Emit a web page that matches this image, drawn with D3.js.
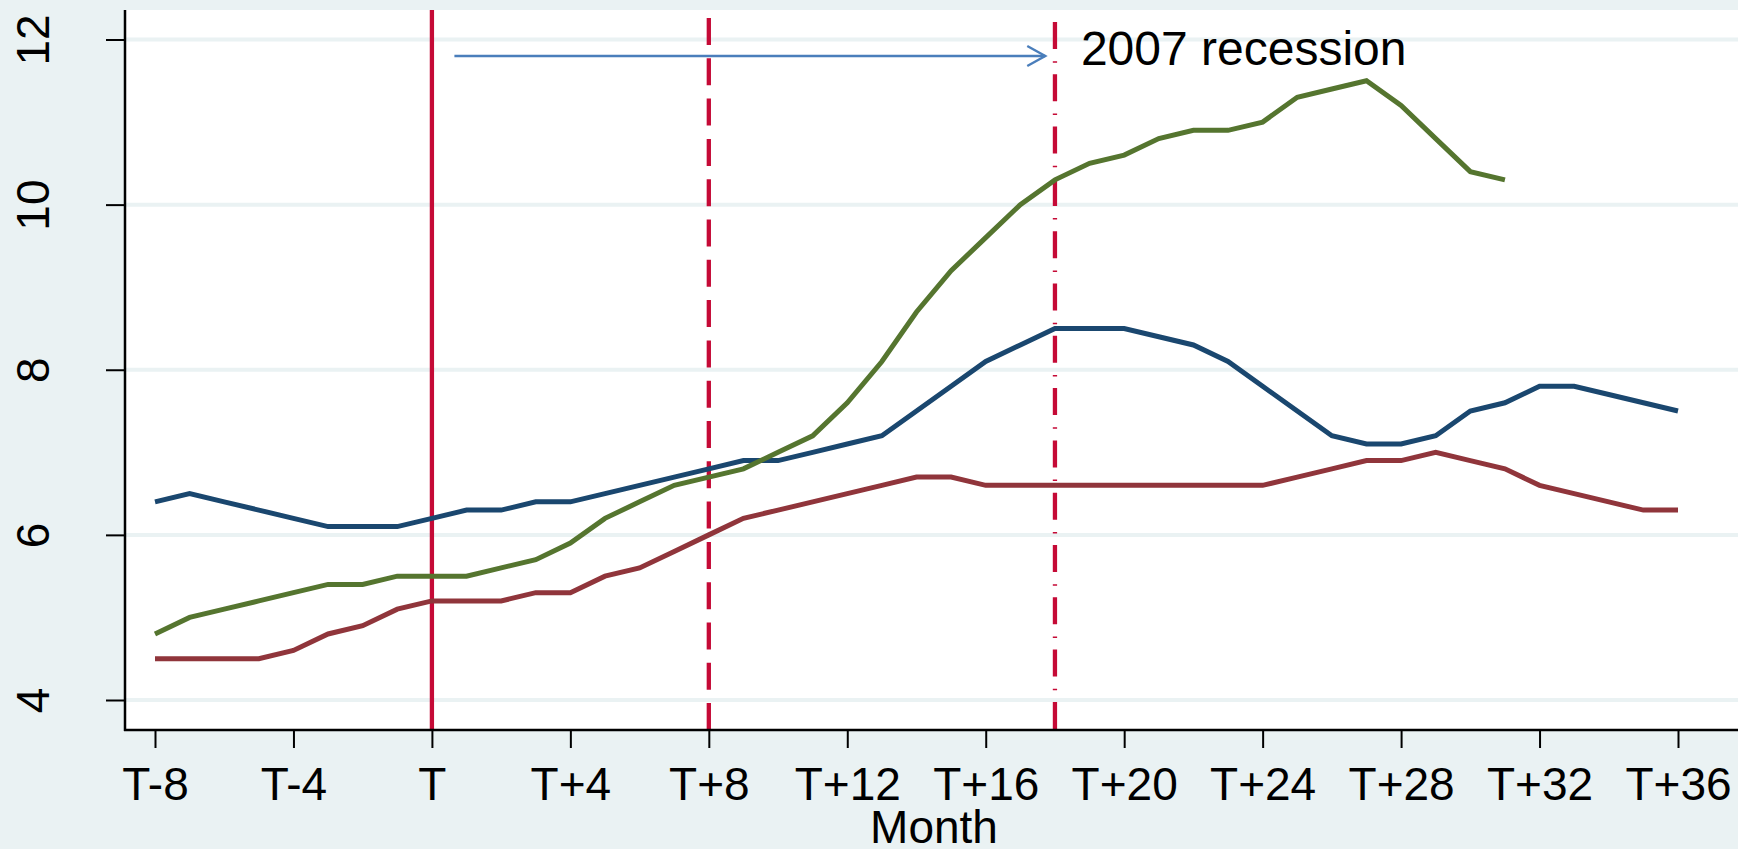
<!DOCTYPE html>
<html>
<head>
<meta charset="utf-8">
<script src="https://cdn.jsdelivr.net/npm/d3@7"></script>
<style>
  html, body { margin: 0; padding: 0; background: #EAF2F3; }
  svg { display: block; font-family: "Liberation Sans", Arial, Helvetica, sans-serif; }
</style>
</head>
<body>
<svg id="chart" width="1738" height="849"></svg>
<script>
// ---------- data ----------
const months = d3.range(-8, 37);            // T-8 ... T+36
const seriesBlue = [6.4, 6.5, 6.4, 6.3, 6.2, 6.1, 6.1, 6.1, 6.2, 6.3, 6.3, 6.4, 6.4, 6.5, 6.6, 6.7, 6.8,
                    6.9, 6.9, 7.0, 7.1, 7.2, 7.5, 7.8, 8.1, 8.3, 8.5, 8.5, 8.5, 8.4, 8.3, 8.1, 7.8, 7.5,
                    7.2, 7.1, 7.1, 7.2, 7.5, 7.6, 7.8, 7.8, 7.7, 7.6, 7.5];
const seriesRed  = [4.5, 4.5, 4.5, 4.5, 4.6, 4.8, 4.9, 5.1, 5.2, 5.2, 5.2, 5.3, 5.3, 5.5, 5.6, 5.8, 6.0,
                    6.2, 6.3, 6.4, 6.5, 6.6, 6.7, 6.7, 6.6, 6.6, 6.6, 6.6, 6.6, 6.6, 6.6, 6.6, 6.6, 6.7,
                    6.8, 6.9, 6.9, 7.0, 6.9, 6.8, 6.6, 6.5, 6.4, 6.3, 6.3];
const seriesGreen = [4.8, 5.0, 5.1, 5.2, 5.3, 5.4, 5.4, 5.5, 5.5, 5.5, 5.6, 5.7, 5.9, 6.2, 6.4, 6.6, 6.7,
                     6.8, 7.0, 7.2, 7.6, 8.1, 8.7, 9.2, 9.6, 10.0, 10.3, 10.5, 10.6, 10.8, 10.9, 10.9, 11.0, 11.3,
                     11.4, 11.5, 11.2, 10.8, 10.4, 10.3, null, null, null, null, null];
const seriesColors = ["#1A476F", "#90353B", "#55752F"];

const xTickValues = [-8, -4, 0, 4, 8, 12, 16, 20, 24, 28, 32, 36];
const xTickLabels = ["T-8", "T-4", "T", "T+4", "T+8", "T+12", "T+16", "T+20", "T+24", "T+28", "T+32", "T+36"];
const yTickValues = [4, 6, 8, 10, 12];
const xTitle = "Month";

const refSolid = 0;       // event month T
const refDashed = 8;      // T+8
const refDashDot = 18;    // T+18 (2007 recession)

const arrowFrom = 0.65, arrowTo = 17.72, arrowValue = 11.8;
const annotationText = "2007 recession";
const annotationMonth = 18.75, annotationValue = 11.69;

// ---------- layout ----------
const W = 1738, H = 849;
const plotLeft = 125, plotRight = 1743, plotTop = 10, plotBottom = 730;
const bg = "#EAF2F3";
const refColor = "#C50A36";

const svg = d3.select("#chart");
const x = d3.scaleLinear().domain([-8, 36]).range([155, 1678]);
const y = d3.scaleLinear().domain([4, 12]).range([700, 39.5]);

svg.append("rect").attr("width", W).attr("height", H).attr("fill", bg);
svg.append("rect").attr("x", plotLeft).attr("y", plotTop)
   .attr("width", plotRight - plotLeft).attr("height", plotBottom - plotTop).attr("fill", "#ffffff");

// gridlines
svg.append("g").selectAll("line").data(yTickValues).join("line")
   .attr("x1", plotLeft).attr("x2", plotRight)
   .attr("y1", d => y(d)).attr("y2", d => y(d))
   .attr("stroke", bg).attr("stroke-width", 4);

// reference lines
svg.append("line").attr("x1", x(refSolid)).attr("x2", x(refSolid))
   .attr("y1", plotTop).attr("y2", plotBottom)
   .attr("stroke", refColor).attr("stroke-width", 4.3);
svg.append("line").attr("x1", x(refDashed)).attr("x2", x(refDashed))
   .attr("y1", 18).attr("y2", plotBottom)
   .attr("stroke", refColor).attr("stroke-width", 4.3)
   .attr("stroke-dasharray", "27,13.3");
svg.append("line").attr("x1", x(refDashDot)).attr("x2", x(refDashDot))
   .attr("y1", 22).attr("y2", plotBottom)
   .attr("stroke", refColor).attr("stroke-width", 4.3)
   .attr("stroke-dasharray", "27,12.2,1.5,11.6");

// series
const allSeries = [seriesBlue, seriesRed, seriesGreen];
const line = d3.line()
  .defined(d => d.v !== null)
  .x(d => x(d.m)).y(d => y(d.v));
allSeries.forEach((s, i) => {
  const pts = months.map((m, j) => ({ m: m, v: s[j] }));
  svg.append("path").datum(pts)
     .attr("d", line)
     .attr("fill", "none")
     .attr("stroke", seriesColors[i])
     .attr("stroke-width", 5)
     .attr("stroke-linejoin", "miter");
});

// arrow annotation
const arrowColor = "#4A7EBB";
const ay = y(arrowValue), ax0 = x(arrowFrom), ax1 = x(arrowTo);
svg.append("line").attr("x1", ax0).attr("x2", ax1).attr("y1", ay).attr("y2", ay)
   .attr("stroke", arrowColor).attr("stroke-width", 2.4);
svg.append("path")
   .attr("d", `M${ax1 - 18},${ay - 10}L${ax1},${ay}L${ax1 - 18},${ay + 10}`)
   .attr("fill", "none").attr("stroke", arrowColor).attr("stroke-width", 2.4);

svg.append("text").attr("x", x(annotationMonth)).attr("y", y(annotationValue))
   .attr("font-size", 48).attr("fill", "#000").text(annotationText);

// axes
const xAxis = d3.axisBottom(x).tickValues(xTickValues)
  .tickFormat((d, i) => xTickLabels[i]).tickSize(18).tickSizeOuter(0);
const gx = svg.append("g").attr("transform", `translate(0,${plotBottom})`).call(xAxis);
gx.select(".domain").remove();
gx.selectAll(".tick line").attr("stroke", "#000").attr("stroke-width", 2);
gx.selectAll(".tick text").attr("y", 70).attr("dy", 0)
  .attr("font-size", 46).attr("font-family", "Liberation Sans, Arial, sans-serif").attr("fill", "#000");

const yAxis = d3.axisLeft(y).tickValues(yTickValues).tickSize(19).tickSizeOuter(0);
const gy = svg.append("g").attr("transform", `translate(${plotLeft},0)`).call(yAxis);
gy.select(".domain").remove();
gy.selectAll(".tick line").attr("stroke", "#000").attr("stroke-width", 2);
gy.selectAll(".tick text").attr("x", 0).attr("y", 0).attr("dy", 0)
  .attr("text-anchor", "middle")
  .attr("transform", `translate(${49 - plotLeft},0) rotate(-90)`)
  .attr("font-size", 46).attr("font-family", "Liberation Sans, Arial, sans-serif").attr("fill", "#000");

// axis lines
svg.append("line").attr("x1", plotLeft).attr("x2", plotLeft).attr("y1", plotTop).attr("y2", plotBottom + 1)
   .attr("stroke", "#000").attr("stroke-width", 2.5);
svg.append("line").attr("x1", plotLeft - 1).attr("x2", plotRight).attr("y1", plotBottom).attr("y2", plotBottom)
   .attr("stroke", "#000").attr("stroke-width", 2.5);

// axis title
svg.append("text").attr("x", (plotLeft + plotRight) / 2).attr("y", 843)
   .attr("text-anchor", "middle").attr("font-size", 46).attr("fill", "#000").text(xTitle);
</script>
</body>
</html>
